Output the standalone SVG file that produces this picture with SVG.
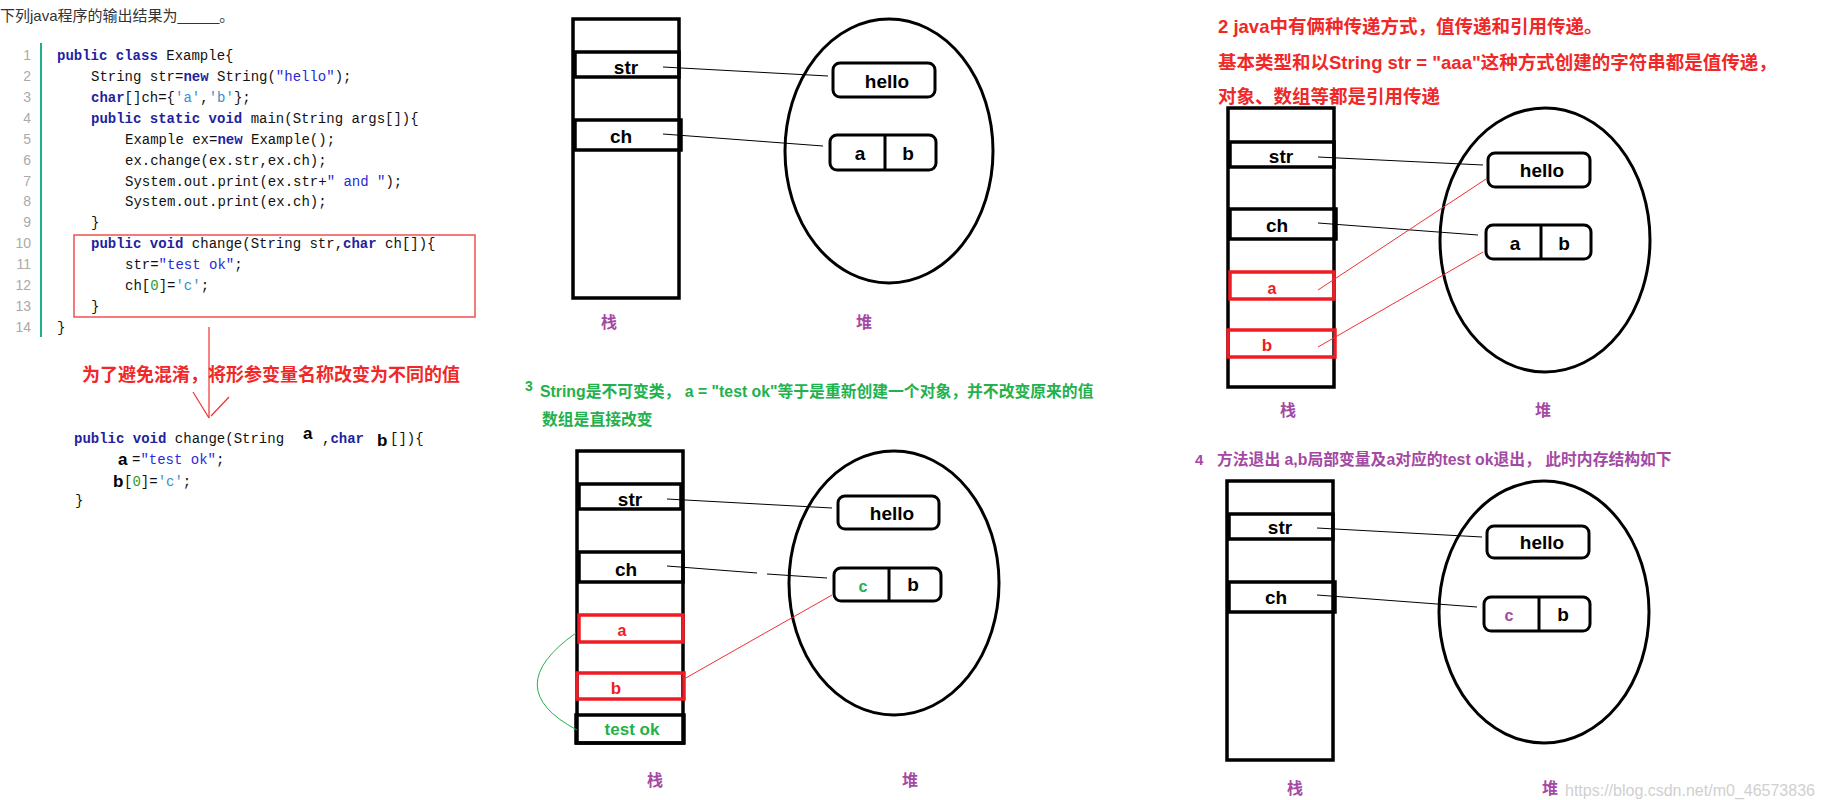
<svg xmlns="http://www.w3.org/2000/svg" width="1821" height="800" viewBox="0 0 1821 800">
<style>
text{font-family:"Liberation Sans","Noto Sans CJK SC",sans-serif}
.code{font-family:"Liberation Mono","Noto Sans CJK SC",monospace;font-size:14px;fill:#111}
.ln{font-family:"Liberation Mono",monospace;font-size:14px;fill:#aaa;text-anchor:end}
.kw{fill:#1f1fa0;font-weight:bold}
.st{fill:#2a2ad8}
.ch{fill:#3a8fd0}
.nm{fill:#2c9a2c}
.stk{fill:none;stroke:#000;stroke-width:3.5}
.cell{fill:none;stroke:#000;stroke-width:3.5}
.rcell{fill:none;stroke:#ee1c24;stroke-width:3.5}
.heap{fill:none;stroke:#000;stroke-width:3}
.box{fill:none;stroke:#000;stroke-width:3}
.lbl{font-weight:bold;font-size:19px;fill:#000;text-anchor:middle;dominant-baseline:central}
.zh{font-weight:bold;font-size:16px;fill:#a349a4;text-anchor:middle;dominant-baseline:central}
.blk{stroke:#000;stroke-width:1;fill:none}
.red{stroke:#f03030;stroke-width:1;fill:none}
</style>
<rect width="1821" height="800" fill="#fff"/>

<g id="code">
<text x="0" y="21" style="font-size:15px;fill:#333">下列java程序的输出结果为_____。</text>
<line x1="41" y1="43" x2="41" y2="337" stroke="#1fb08a" stroke-width="2"/>
<g class="ln">
<text x="31" y="60">1</text><text x="31" y="81">2</text><text x="31" y="102">3</text><text x="31" y="123">4</text><text x="31" y="144">5</text><text x="31" y="165">6</text><text x="31" y="186">7</text><text x="31" y="206">8</text><text x="31" y="227">9</text><text x="31" y="248">10</text><text x="31" y="269">11</text><text x="31" y="290">12</text><text x="31" y="311">13</text><text x="31" y="332">14</text>
</g>
<text class="code" x="57" y="60"><tspan class="kw">public class</tspan> Example{</text>
<text class="code" x="91" y="81">String str=<tspan class="kw">new</tspan> String(<tspan class="st">"hello"</tspan>);</text>
<text class="code" x="91" y="102"><tspan class="kw">char</tspan>[]ch={<tspan class="ch">'a'</tspan>,<tspan class="ch">'b'</tspan>};</text>
<text class="code" x="91" y="123"><tspan class="kw">public static void</tspan> main(String args[]){</text>
<text class="code" x="125" y="144">Example ex=<tspan class="kw">new</tspan> Example();</text>
<text class="code" x="125" y="165">ex.change(ex.str,ex.ch);</text>
<text class="code" x="125" y="186">System.out.print(ex.str+<tspan class="st">" and "</tspan>);</text>
<text class="code" x="125" y="206">System.out.print(ex.ch);</text>
<text class="code" x="91" y="227">}</text>
<text class="code" x="91" y="248"><tspan class="kw">public void</tspan> change(String str,<tspan class="kw">char</tspan> ch[]){</text>
<text class="code" x="125" y="269">str=<tspan class="st">"test ok"</tspan>;</text>
<text class="code" x="125" y="290">ch[<tspan class="nm">0</tspan>]=<tspan class="ch">'c'</tspan>;</text>
<text class="code" x="91" y="311">}</text>
<text class="code" x="57" y="332">}</text>
<rect x="74" y="235" width="401" height="82" fill="none" stroke="#f05050" stroke-width="1.5"/>
<line x1="209" y1="327" x2="209" y2="418" stroke="#f03030" stroke-width="1.2"/>
<line x1="193" y1="392" x2="209" y2="418" stroke="#f03030" stroke-width="1.2"/>
<line x1="229" y1="397" x2="211" y2="416" stroke="#f03030" stroke-width="1.2"/>
<text x="82" y="381" style="font-size:18px;font-weight:bold;fill:#f02828">为了避免混淆，将形参变量名称改变为不同的值</text>
<text class="code" x="74" y="443"><tspan class="kw">public void</tspan> change(String</text>
<text x="303" y="439" style="font-size:17px;font-weight:bold;fill:#000">a</text>
<text class="code" x="322" y="443">,<tspan class="kw">char</tspan></text>
<text x="377" y="446" style="font-size:17px;font-weight:bold;fill:#000">b</text>
<text class="code" x="390" y="443">[]){</text>
<text x="118" y="465" style="font-size:17px;font-weight:bold;fill:#000">a</text>
<text class="code" x="132" y="464">=<tspan class="st">"test ok"</tspan>;</text>
<text x="113" y="487" style="font-size:17px;font-weight:bold;fill:#000">b</text>
<text class="code" x="124" y="486">[<tspan class="nm">0</tspan>]=<tspan class="ch">'c'</tspan>;</text>
<text class="code" x="75" y="505">}</text>
</g>

<g id="panel1">
<rect class="stk" x="573" y="19" width="106" height="279"/>
<rect class="cell" x="575" y="52" width="104" height="25"/>
<rect class="cell" x="575" y="120" width="106" height="30"/>
<text class="lbl" x="626" y="67">str</text>
<text class="lbl" x="621" y="136">ch</text>
<ellipse class="heap" cx="889" cy="151" rx="104" ry="132"/>
<rect class="box" x="833" y="63" width="102" height="34" rx="7"/>
<text class="lbl" x="887" y="81">hello</text>
<rect class="box" x="830" y="135" width="106" height="35" rx="7"/>
<line x1="885" y1="135" x2="885" y2="171" stroke="#000" stroke-width="3"/>
<text class="lbl" x="860" y="153">a</text>
<text class="lbl" x="908" y="153">b</text>
<text class="zh" x="609" y="322">栈</text>
<text class="zh" x="864" y="322">堆</text>
</g>

<g id="panel2">
<text x="1218" y="33" style="font-size:18.5px;font-weight:bold;fill:#f02828">2 java中有俩种传递方式，值传递和引用传递。</text>
<text x="1218" y="69" style="font-size:18.5px;font-weight:bold;fill:#f02828">基本类型和以String str = "aaa"这种方式创建的字符串都是值传递，</text>
<text x="1218" y="103" style="font-size:18.5px;font-weight:bold;fill:#f02828">对象、数组等都是引用传递</text>
<rect class="stk" x="1228" y="108" width="106" height="279"/>
<rect class="cell" x="1230" y="142" width="104" height="25"/>
<rect class="cell" x="1230" y="209" width="106" height="30"/>
<rect class="rcell" x="1230" y="272" width="104" height="27"/>
<rect class="rcell" x="1228" y="330" width="107" height="27"/>
<text class="lbl" x="1281" y="156">str</text>
<text class="lbl" x="1277" y="225">ch</text>
<text class="lbl" x="1272" y="288" style="fill:#ee1c24;font-size:16px">a</text>
<text class="lbl" x="1267" y="345" style="fill:#ee1c24;font-size:17px">b</text>
<ellipse class="heap" cx="1545" cy="240" rx="105" ry="132"/>
<rect class="box" x="1488" y="153" width="102" height="34" rx="7"/>
<text class="lbl" x="1542" y="170">hello</text>
<rect class="box" x="1486" y="225" width="105" height="34" rx="7"/>
<line x1="1541" y1="225" x2="1541" y2="260" stroke="#000" stroke-width="3"/>
<text class="lbl" x="1515" y="243">a</text>
<text class="lbl" x="1564" y="243">b</text>
<text class="zh" x="1288" y="410">栈</text>
<text class="zh" x="1543" y="410">堆</text>
</g>

<g id="panel3">
<text x="525" y="391" style="font-size:14px;font-weight:bold;fill:#22b14c">3</text>
<text x="540" y="397" style="font-size:15.8px;font-weight:bold;fill:#22b14c">String是不可变类， a = "test ok"等于是重新创建一个对象，并不改变原来的值</text>
<text x="542" y="425" style="font-size:15.8px;font-weight:bold;fill:#22b14c">数组是直接改变</text>
<rect class="stk" x="577" y="451" width="106" height="292"/>
<rect class="cell" x="579" y="484" width="102" height="25"/>
<rect class="cell" x="579" y="552" width="104" height="30"/>
<rect class="rcell" x="579" y="615" width="104" height="27"/>
<rect class="rcell" x="577" y="673" width="107" height="26"/>
<rect class="cell" x="576" y="715" width="108" height="28"/>
<text class="lbl" x="630" y="499">str</text>
<text class="lbl" x="626" y="569">ch</text>
<text class="lbl" x="622" y="630" style="fill:#ee1c24;font-size:16px">a</text>
<text class="lbl" x="616" y="688" style="fill:#ee1c24;font-size:17px">b</text>
<text class="lbl" x="632" y="729" style="fill:#22b14c;font-size:17px">test  ok</text>
<ellipse class="heap" cx="894" cy="583" rx="105" ry="132"/>
<rect class="box" x="838" y="496" width="101" height="33" rx="7"/>
<text class="lbl" x="892" y="513">hello</text>
<rect class="box" x="834" y="568" width="107" height="33" rx="7"/>
<line x1="889" y1="568" x2="889" y2="602" stroke="#000" stroke-width="3"/>
<text class="lbl" x="863" y="586" style="fill:#22b14c;font-size:16px">c</text>
<text class="lbl" x="913" y="584">b</text>
<text class="zh" x="655" y="780">栈</text>
<text class="zh" x="910" y="780">堆</text>
</g>

<g id="panel4">
<text x="1195" y="465" style="font-size:15px;font-weight:bold;fill:#a349a4">4</text>
<text x="1217" y="465" style="font-size:15.8px;font-weight:bold;fill:#a349a4">方法退出  a,b局部变量及a对应的test ok退出，  此时内存结构如下</text>
<rect class="stk" x="1227" y="481" width="106" height="279"/>
<rect class="cell" x="1229" y="514" width="104" height="25"/>
<rect class="cell" x="1229" y="582" width="106" height="30"/>
<text class="lbl" x="1280" y="527">str</text>
<text class="lbl" x="1276" y="597">ch</text>
<ellipse class="heap" cx="1544" cy="612" rx="105" ry="131"/>
<rect class="box" x="1487" y="526" width="102" height="32" rx="7"/>
<text class="lbl" x="1542" y="542">hello</text>
<rect class="box" x="1484" y="597" width="106" height="34" rx="7"/>
<line x1="1539" y1="597" x2="1539" y2="632" stroke="#000" stroke-width="3"/>
<text class="lbl" x="1509" y="615" style="fill:#a349a4;font-size:16px">c</text>
<text class="lbl" x="1563" y="614">b</text>
<text class="zh" x="1295" y="788">栈</text>
<text class="zh" x="1550" y="788">堆</text>
<text x="1565" y="796" style="font-size:16px;fill:#d0d0d0">https://blog.csdn.net/m0_46573836</text>
</g>

<g id="connectors">
<path class="blk" d="M663,67 L828,76"/>
<path class="blk" d="M663,134 L823,146"/>
<path class="blk" d="M1318,157 L1483,165"/>
<path class="blk" d="M1318,223 L1478,235"/>
<path class="red" d="M1318,290 L1486,179"/>
<path class="red" d="M1318,347 L1483,252"/>
<path class="blk" d="M667,499 L832,508"/>
<path class="blk" d="M667,566 L757,573 M767,574 L827,578"/>
<path class="red" d="M684,679 L832,595"/>
<path d="M576,633 Q498,688 577,730" fill="none" stroke="#22b14c" stroke-width="1"/>
<path class="blk" d="M1317,528 L1482,537"/>
<path class="blk" d="M1317,595 L1477,607"/>
</g>
</svg>
